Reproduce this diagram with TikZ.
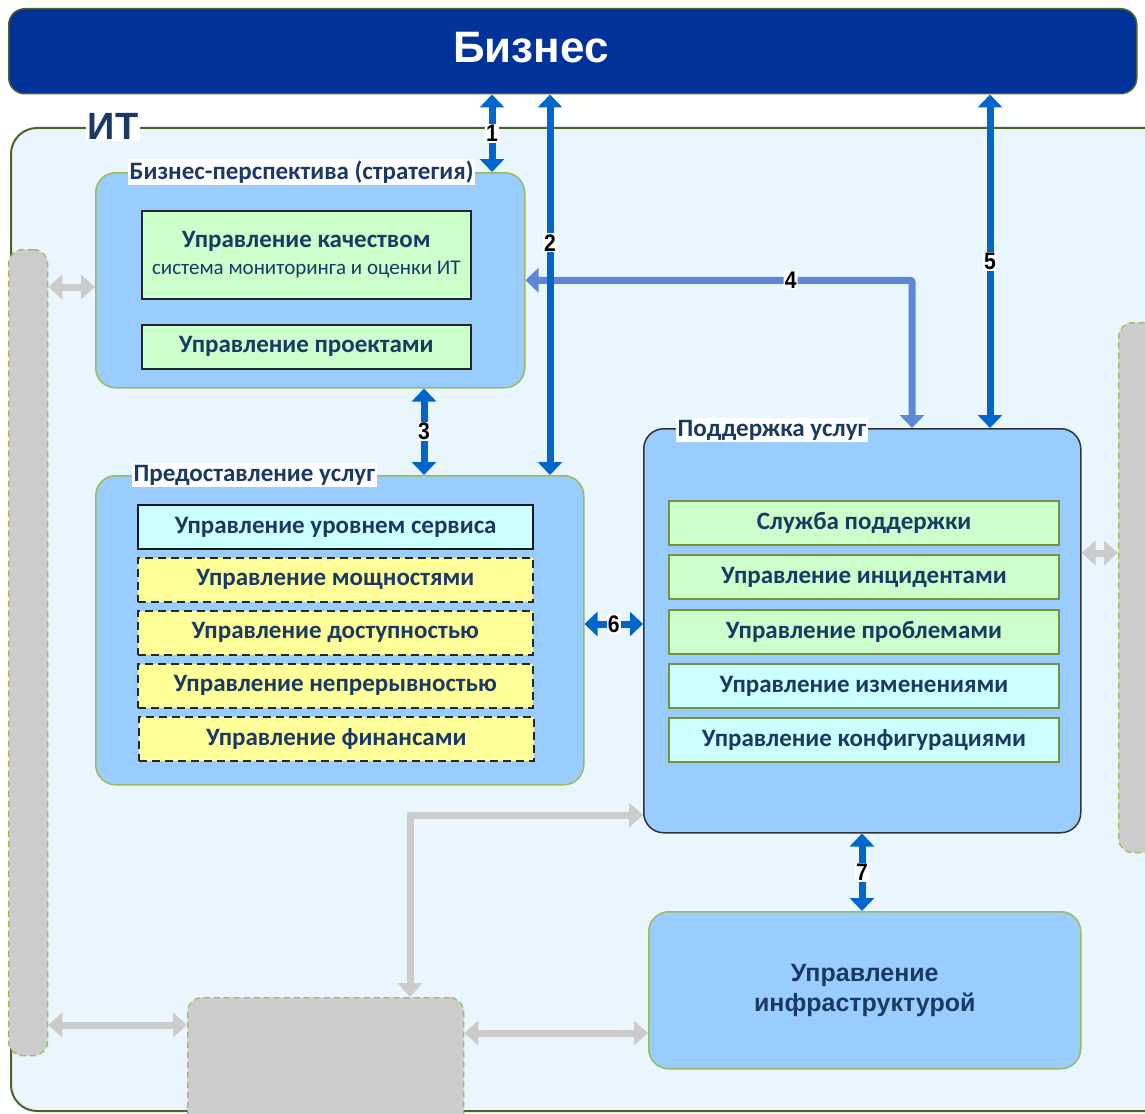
\documentclass[tikz,border=0pt]{standalone}
\usepackage{fontspec}
\setmainfont{Carlito}
\newfontfamily\arialf{Liberation Sans}
\newfontfamily\numf[FakeStretch=0.88]{Liberation Sans}
\usetikzlibrary{arrows.meta}
\definecolor{bizblue}{HTML}{003399}
\definecolor{itbg}{HTML}{EAF6FE}
\definecolor{itborder}{HTML}{4F6228}
\definecolor{blkfill}{HTML}{99CCFF}
\definecolor{lgreen}{HTML}{9BBB59}
\definecolor{olive}{HTML}{77933C}
\definecolor{greenfill}{HTML}{CCFFCC}
\definecolor{cyanfill}{HTML}{CCFFFF}
\definecolor{yellowfill}{HTML}{FFFF99}
\definecolor{navy}{HTML}{1B3A63}
\definecolor{arrblue}{HTML}{0066CC}
\definecolor{arrblue2}{HTML}{5F87D8}
\definecolor{grayarr}{HTML}{CCCCCC}
\begin{document}
\begin{tikzpicture}[x=1pt,y=-1pt,
  blk/.style={draw=lgreen, fill=blkfill, line width=1.5pt, rounded corners=20pt, inner sep=0pt, anchor=north west},
  graybox/.style={draw=lgreen, fill=grayarr, dashed, dash pattern=on 6pt off 4pt, line width=1.3pt, rounded corners=14pt, inner sep=0pt, anchor=north west},
  itembox/.style={line width=1.6pt, inner sep=0pt, anchor=north west, text=navy, font=\fontsize{25}{28}\selectfont\bfseries, minimum height=44pt},
  pitem/.style={itembox, draw=black!85, fill=greenfill, minimum width=329pt},
  sitem/.style={itembox, draw=black!85, minimum width=395pt},
  suitem/.style={itembox, draw=olive, minimum width=390pt, line width=2pt},
  title/.style={fill=white, inner sep=1.5pt, anchor=west, text=navy, font=\fontsize{25}{28}\selectfont\bfseries},
  num/.style={fill=white, inner sep=1.2pt, text=black, font=\numf\fontsize{24}{26}\selectfont\bfseries},
  barrow/.style={draw=arrblue, line width=7pt, {Triangle[width=24pt,length=13pt]}-{Triangle[width=24pt,length=13pt]}},
  barrow2/.style={draw=arrblue2, line width=7pt, rounded corners=2pt, {Triangle[width=24pt,length=13pt]}-{Triangle[width=24pt,length=13pt]}},
  garrow/.style={draw=grayarr, line width=7pt, {Triangle[width=24pt,length=14pt]}-{Triangle[width=24pt,length=14pt]}}
]
\useasboundingbox (0,0) rectangle (1145,1113);
\clip (0,0) rectangle (1145,1113);
\fill[white] (0,0) rectangle (1145,1113);

% Business banner
\node[draw=itborder, fill=bizblue, line width=1.5pt, rounded corners=16pt, anchor=north west,
      minimum width=1128pt, minimum height=85pt, inner sep=0pt] (biz) at (8,8) {};
\node[text=white, font=\arialf\fontsize{44}{48}\selectfont\bfseries] (biztxt) at (531,48) {Бизнес};

% IT container
\node[draw=itborder, fill=itbg, line width=2pt, rounded corners=26pt, anchor=north west,
      minimum width=1170pt, minimum height=983pt, inner sep=0pt] (it) at (10,127) {};
\node[fill=white, inner sep=2pt, text=navy, font=\arialf\fontsize{38}{40}\selectfont\bfseries] (ittxt) at (113,126) {ИТ};

% gray side boxes
\node[graybox, minimum width=39pt, minimum height=806pt] (lgray) at (8,249) {};
\node[graybox, minimum width=60pt, minimum height=530pt] (rgray) at (1118,322) {};
\node[graybox, minimum width=276pt, minimum height=150pt] (bgray) at (187,997) {};

% Business perspective
\node[blk, minimum width=429pt, minimum height=215pt] (persp) at (95,172) {};
\node[title] (persptitle) at (128,172) {Бизнес-перспектива (стратегия)};
\node[pitem, minimum height=88pt, align=center] (qual) at (141,210)
  {Управление качеством\\[-1pt]{\mdseries\fontsize{21}{23}\selectfont система мониторинга и оценки ИТ}};
\node[pitem] (proj) at (141,324) {Управление проектами};

% Service delivery
\node[blk, minimum width=488pt, minimum height=309pt] (deliv) at (95,475) {};
\node[title] (delivtitle) at (132,475) {Предоставление услуг};
\node[sitem, fill=cyanfill, line width=2.4pt, draw=black!90] (slm) at (137,504) {Управление уровнем сервиса};
\node[sitem, fill=yellowfill, dashed, dash pattern=on 8pt off 5pt] (cap) at (137,557) {Управление мощностями};
\node[sitem, fill=yellowfill, dashed, dash pattern=on 8pt off 5pt] (avail) at (137,610) {Управление доступностью};
\node[sitem, fill=yellowfill, dashed, dash pattern=on 8pt off 5pt] (cont) at (137,663) {Управление непрерывностью};
\node[sitem, fill=yellowfill, dashed, dash pattern=on 8pt off 5pt] (fin) at (138,716) {Управление финансами};

% Service support
\node[blk, draw=black!80, minimum width=437pt, minimum height=404pt] (supp) at (643,428) {};
\node[title] (supptitle) at (676,430) {Поддержка услуг};
\node[suitem, fill=greenfill] (desk) at (668,500) {Служба поддержки};
\node[suitem, fill=greenfill] (inc) at (668,554) {Управление инцидентами};
\node[suitem, fill=greenfill] (prob) at (668,609) {Управление проблемами};
\node[suitem, fill=cyanfill] (chg) at (668,663) {Управление изменениями};
\node[suitem, fill=cyanfill] (cfg) at (668,717) {Управление конфигурациями};

% Infrastructure
\node[blk, minimum width=432pt, minimum height=157pt, align=center, text=navy,
      font=\arialf\fontsize{25}{30}\selectfont\bfseries] (infra) at (648,911)
  {Управление\\инфраструктурой};

% helper coordinates
\coordinate (c1) at (492,0);
\coordinate (c2) at (550,0);
\coordinate (c3) at (424,0);
\coordinate (c4) at (912,0);
\coordinate (c5) at (990,0);
\coordinate (c6) at (0,624);
\coordinate (c7) at (862,0);
\coordinate (g1) at (0,287);
\coordinate (g2) at (0,1025);
\coordinate (g3) at (0,1033);
\coordinate (g4) at (410,815);
\coordinate (g5) at (0,553);

% gray arrows
\draw[garrow] (lgray.east |- g1) -- (persp.west |- g1);
\draw[garrow] (lgray.east |- g2) -- (bgray.west |- g2);
\draw[garrow] (bgray.east |- g3) -- (infra.west |- g3);
\draw[garrow] (g4 |- bgray.north) -- (g4) -- (supp.west |- g4);
\draw[garrow] (supp.east |- g5) -- (rgray.west |- g5);

% blue arrows
\draw[barrow2] (persp.east) -- node[num, pos=0.686] {4} (c4 |- persp.east) -- (c4 |- supp.north);
\draw[barrow] (c1 |- biz.south) -- node[num] {1} (c1 |- persp.north);
\draw[barrow] (c2 |- biz.south) -- node[num, pos=0.39] {2} (c2 |- deliv.north);
\draw[barrow] (c3 |- persp.south) -- node[num] {3} (c3 |- deliv.north);
\draw[barrow] (c5 |- biz.south) -- node[num] {5} (c5 |- supp.north);
\draw[barrow] (deliv.east |- c6) -- node[num] {6} (supp.west |- c6);
\draw[barrow] (c7 |- supp.south) -- node[num] {7} (c7 |- infra.north);
\end{tikzpicture}
\end{document}
